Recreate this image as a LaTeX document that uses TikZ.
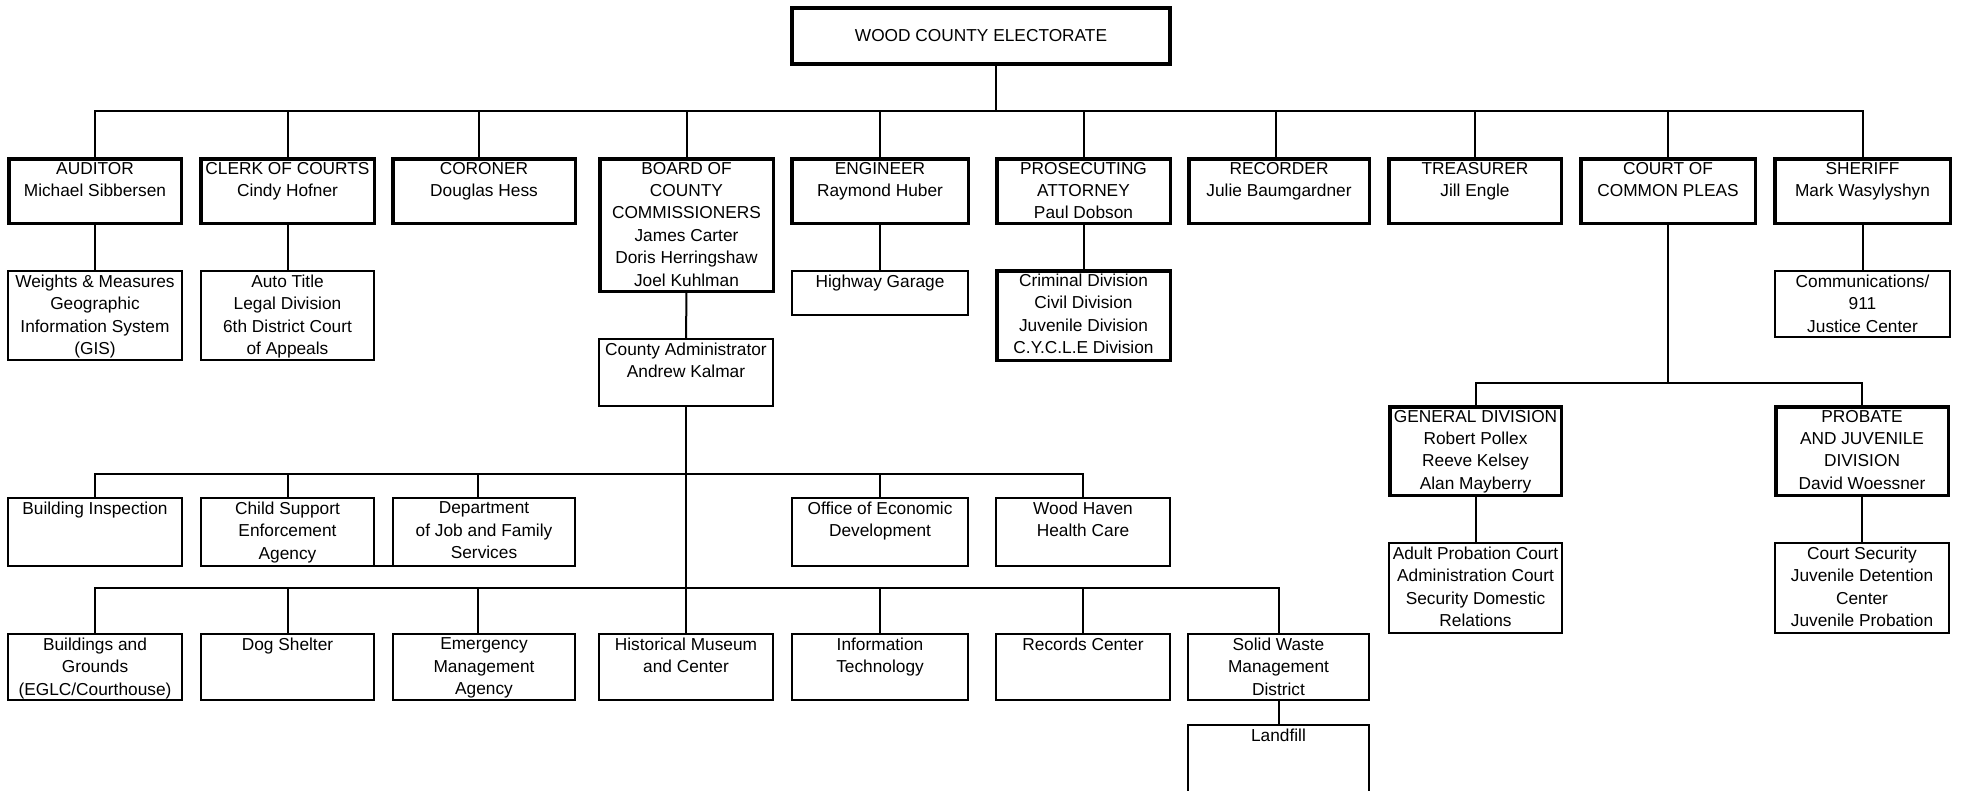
\documentclass[tikz,border=0pt]{standalone}
\usepackage{fontspec}
\setmainfont{Liberation Sans}
\usetikzlibrary{calc}
\tikzset{
  boxstyle/.style={draw=black, rectangle, inner sep=0pt, outer sep=0pt},
  txt/.style={align=center, inner sep=0pt, outer sep=0pt, anchor=north,
    font=\fontsize{17.3pt}{22.4pt}\selectfont},
  conn/.style={draw=black, line width=2pt},
}
% \orgbox{name}{line width}{x1}{y1}{x2}{y2}{text}
\newcommand\orgbox[7]{%
  \node[boxstyle, line width=#2pt,
        minimum width={(#5-#3-#2)*1pt}, minimum height={(#6-#4-#2)*1pt}]
        (#1) at ({(#3+#5)/2},{(#4+#6)/2}) {};
  \node[txt] (#1-t) at ({(#3+#5)/2},{#4+5}) {#7};
}
\begin{document}
\begin{tikzpicture}[x=1pt,y=-1pt]
\useasboundingbox (0,0) rectangle (1961,790);
\fill[white] (0,0) rectangle (1961,790);
\clip (0,0) rectangle (1961,790);

% top
\node[boxstyle, line width=4pt, minimum width=378pt, minimum height=56pt,
      font=\fontsize{17.3pt}{22.4pt}\selectfont] (top) at (981,36) {WOOD COUNTY ELECTORATE};

% row 1 (elected officials)
\orgbox{aud}{3.5}{7}{157}{183}{225}{AUDITOR\\Michael Sibbersen}
\orgbox{clerk}{3.5}{199}{157}{376}{225}{CLERK OF COURTS\\Cindy Hofner}
\orgbox{cor}{3.5}{391}{157}{577}{225}{CORONER\\Douglas Hess}
\orgbox{board}{3.5}{598}{157}{775}{293}{BOARD OF\\COUNTY\\COMMISSIONERS\\James Carter\\Doris Herringshaw\\Joel Kuhlman}
\orgbox{eng}{3.5}{790}{157}{970}{225}{ENGINEER\\Raymond Huber}
\orgbox{pros}{3.5}{995}{157}{1172}{225}{PROSECUTING\\ATTORNEY\\Paul Dobson}
\orgbox{rec}{3.5}{1187}{157}{1371}{225}{RECORDER\\Julie Baumgardner}
\orgbox{treas}{3.5}{1387}{157}{1563}{225}{TREASURER\\Jill Engle}
\orgbox{court}{3.5}{1579}{157}{1757}{225}{COURT OF\\COMMON PLEAS}
\orgbox{sher}{3.5}{1773}{157}{1952}{225}{SHERIFF\\Mark Wasylyshyn}

% row 1 children
\orgbox{wm}{2}{7}{270}{183}{361}{Weights \& Measures\\Geographic\\Information System\\(GIS)}
\orgbox{auto}{2}{200}{270}{375}{361}{Auto Title\\Legal Division\\6th District Court\\of Appeals}
\orgbox{hwy}{2}{791}{270}{969}{316}{Highway Garage}
\orgbox{crim}{3.5}{995}{269}{1172}{362}{Criminal Division\\Civil Division\\Juvenile Division\\C.Y.C.L.E Division}
\orgbox{comm}{2}{1774}{270}{1951}{338}{Communications/\\911\\Justice Center}
\orgbox{admin}{2}{598}{338}{774}{407}{County Administrator\\Andrew Kalmar}

% court divisions
\orgbox{gen}{3.5}{1388}{405}{1563}{497}{GENERAL DIVISION\\Robert Pollex\\Reeve Kelsey\\Alan Mayberry}
\orgbox{prob}{3.5}{1774}{405}{1950}{497}{PROBATE\\AND JUVENILE\\DIVISION\\David Woessner}
\orgbox{adult}{2}{1388}{542}{1563}{634}{Adult Probation Court\\Administration Court\\Security Domestic\\Relations}
\orgbox{csec}{2}{1774}{542}{1950}{634}{Court Security\\Juvenile Detention\\Center\\Juvenile Probation}

% row 2 (administration)
\orgbox{bi}{2}{7}{497}{183}{567}{Building Inspection}
\orgbox{cs}{2}{200}{497}{375}{567}{Child Support\\Enforcement\\Agency}
\orgbox{djfs}{2}{392}{497}{576}{567}{Department\\of Job and Family\\Services}
\orgbox{oed}{2}{791}{497}{969}{567}{Office of Economic\\Development}
\orgbox{wh}{2}{995}{497}{1171}{567}{Wood Haven\\Health Care}

% row 3
\orgbox{bg}{2}{7}{633}{183}{701}{Buildings and\\Grounds\\(EGLC/Courthouse)}
\orgbox{dog}{2}{200}{633}{375}{701}{Dog Shelter}
\orgbox{ema}{2}{392}{633}{576}{701}{Emergency\\Management\\Agency}
\orgbox{hist}{2}{598}{633}{774}{701}{Historical Museum\\and Center}
\orgbox{it}{2}{791}{633}{969}{701}{Information\\Technology}
\orgbox{rc}{2}{995}{633}{1171}{701}{Records Center}
\orgbox{sw}{2}{1187}{633}{1370}{701}{Solid Waste\\Management\\District}
\orgbox{land}{2}{1187}{724}{1370}{830}{Landfill}

% bus coordinates
\coordinate (b1) at (996,111);
\coordinate (b2) at (687,474);
\coordinate (b3) at (687,588);
\coordinate (bc) at (1668,383);
% connector entry points that sit left of their box centre
\coordinate (corin) at ($(cor.north)+(-5,0)$);
\coordinate (recin) at ($(rec.north)+(-3,0)$);
\coordinate (djfsin) at ($(djfs.north)+(-6,0)$);
\coordinate (emain) at ($(ema.north)+(-6,0)$);

% top bus
\draw[conn] (top.south -| b1) -- (b1);
\draw[conn] (aud.north) -- (aud.north |- b1) -- (sher.north |- b1) -- (sher.north);
\foreach \n in {clerk,board,eng,pros,treas,court}
  \draw[conn] (\n.north) -- (\n.north |- b1);
\draw[conn] (corin) -- (corin |- b1);
\draw[conn] (recin) -- (recin |- b1);

% row 1 children
\draw[conn] (aud.south) -- (wm.north);
\draw[conn] (clerk.south) -- (auto.north);
\draw[conn] (eng.south) -- (hwy.north);
\draw[conn] (pros.south) -- (crim.north);
\draw[conn] (sher.south) -- (comm.north);
\draw[conn] (board.south) -- (admin.north);

% court
\draw[conn] (court.south) -- (bc);
\draw[conn] (gen.north) -- (gen.north |- bc) -- (prob.north |- bc) -- (prob.north);
\draw[conn] (gen.south) -- (adult.north);
\draw[conn] (prob.south) -- (csec.north);

% administration
\draw[conn] (admin.south) -- (hist.north);
\draw[conn] (bi.north) -- (bi.north |- b2) -- (wh.north |- b2) -- (wh.north);
\foreach \n in {cs,oed}
  \draw[conn] (\n.north) -- (\n.north |- b2);
\draw[conn] (djfsin) -- (djfsin |- b2);
\draw[conn] (cs.south east) -- (djfs.south west);
\draw[conn] (bg.north) -- (bg.north |- b3) -- (sw.north |- b3) -- (sw.north);
\foreach \n in {dog,it,rc}
  \draw[conn] (\n.north) -- (\n.north |- b3);
\draw[conn] (emain) -- (emain |- b3);
\draw[conn] (sw.south) -- (land.north);
\end{tikzpicture}
\end{document}
